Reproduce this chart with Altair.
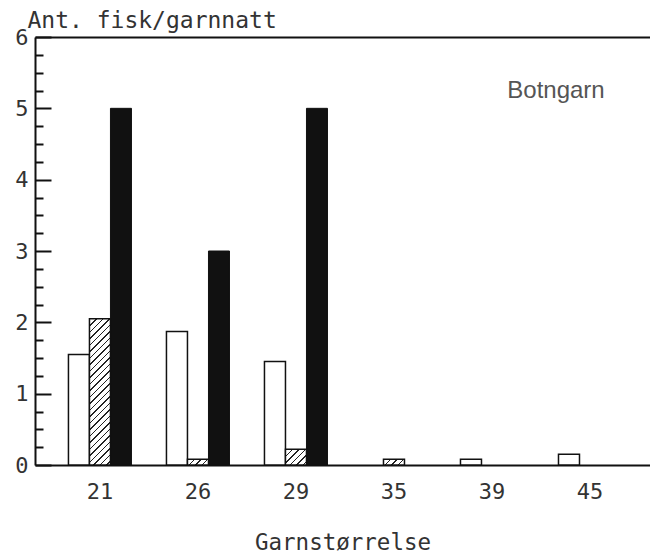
import altair as alt
import pandas as pd

# ---- data ----
garn = ["21", "26", "29", "35", "39", "45"]
hvit = [1.55, 1.87, 1.45, 0.0, 0.08, 0.15]
skravert = [2.05, 0.08, 0.22, 0.08, 0.0, 0.0]
svart = [5.0, 3.0, 5.0, 0.0, 0.0, 0.0]
serier = ["hvit", "skravert", "svart"]
y_major = [0, 1, 2, 3, 4, 5, 6]
y_minor = [q / 4 for q in range(0, 25) if q % 4 != 0]

# ---- layout ----
W, H = 615, 428
PI, PO, ALIGN = 0.357, 0.316, 0.54
YMAX = 6
step = W / (len(garn) - PI + 2 * PO)
bar_w = step * (1 - PI) / 3

FONT = "DejaVu Sans Mono"
TXT = "#333333"
INK = "#111111"

rows = []
for s, vals in zip(serier, [hvit, skravert, svart]):
    for g, v in zip(garn, vals):
        rows.append({"garn": g, "serie": s, "verdi": v})
df = pd.DataFrame(rows)

x_scale = alt.Scale(paddingInner=PI, paddingOuter=PO, align=ALIGN)

x_bottom = alt.X(
    "garn:N", sort=garn, scale=x_scale,
    axis=alt.Axis(
        title="Garnstørrelse", orient="bottom", domain=True, domainColor=INK,
        domainWidth=2, ticks=False, tickSize=0, labelPadding=16,
        labelFontSize=22, labelFont=FONT, labelColor=TXT, labelAngle=0,
        titleFont=FONT, titleFontSize=22.5, titleFontWeight="normal",
        titleColor=TXT, titlePadding=29, grid=False,
    ),
)
x_top = alt.X(
    "garn:N", sort=garn, scale=x_scale,
    axis=alt.Axis(
        orient="top", domain=True, domainColor=INK, domainWidth=2,
        ticks=False, labels=False, grid=False, title=None,
    ),
)
x_plain = alt.X("garn:N", sort=garn, scale=x_scale, axis=None)

xo_enc = alt.XOffset(
    "serie:N", sort=serier,
    scale=alt.Scale(domain=serier, paddingInner=0, paddingOuter=0),
)
y_scale = alt.Scale(domain=[0, YMAX], nice=False, zero=True)

y_left = alt.Y(
    "verdi:Q", scale=y_scale,
    axis=alt.Axis(
        orient="left", values=y_major, ticks=False, tickSize=0, domain=True,
        domainColor=INK, domainWidth=2,
        grid=False, labelPadding=7, labelFontSize=22, labelFont=FONT,
        labelColor=TXT, title="Ant. fisk/garnnatt", titleAngle=0,
        titleAlign="left", titleBaseline="alphabetic", titleX=-8, titleY=-10,
        titleFont=FONT, titleFontSize=23, titleFontWeight="normal",
        titleColor=TXT,
    ),
)
y_major_ticks = alt.Y(
    "verdi:Q", scale=y_scale,
    axis=alt.Axis(
        orient="right", offset=-W, values=y_major, tickSize=16, tickWidth=2,
        tickColor=INK, labels=False, domain=False, grid=False, title=None,
    ),
)
y_minor_ticks = alt.Y(
    "verdi:Q", scale=y_scale,
    axis=alt.Axis(
        orient="right", offset=-W, values=y_minor, tickSize=8, tickWidth=2,
        tickColor=INK, labels=False, domain=False, grid=False, title=None,
    ),
)
y_plain = alt.Y("verdi:Q", scale=y_scale, axis=None)

base = alt.Chart(df)

white = base.transform_filter(
    (alt.datum.serie == "hvit") & (alt.datum.verdi > 0)
).mark_bar(fill="white", stroke=INK, strokeWidth=1.5).encode(
    x=x_bottom, xOffset=xo_enc, y=y_left
)

black = base.transform_filter(
    (alt.datum.serie == "svart") & (alt.datum.verdi > 0)
).mark_bar(fill=INK, stroke=INK, strokeWidth=1).encode(
    x=x_top, xOffset=xo_enc, y=y_major_ticks
)


def hatch(value, period=6.5, lw=1.4):
    """Diagonal '///' hatch as a hard-stop linear gradient for a bar of given value."""
    w = bar_w
    h = max(value / YMAX * H, 1.0)
    c = w * (w + h) / (w * w + h * h)
    total = w + h
    stops = [alt.GradientStop(color="white", offset=0)]
    k = 0
    while k * period < total:
        s0 = k * period
        s1 = min(s0 + lw, total)
        o0, o1 = s0 / total, s1 / total
        stops += [
            alt.GradientStop(color="white", offset=o0),
            alt.GradientStop(color="#222222", offset=o0),
            alt.GradientStop(color="#222222", offset=o1),
            alt.GradientStop(color="white", offset=o1),
        ]
        k += 1
    stops.append(alt.GradientStop(color="white", offset=1))
    return alt.LinearGradient(
        gradient="linear", stops=stops, x1=0, y1=0, x2=c, y2=c * h / w
    )


hatched_layers = []
first = True
for g, v in zip(garn, skravert):
    if v <= 0:
        continue
    lay = base.transform_filter(
        (alt.datum.serie == "skravert") & (alt.datum.garn == g)
    ).mark_bar(fill=hatch(v), stroke=INK, strokeWidth=1.5).encode(
        x=x_plain, xOffset=xo_enc, y=(y_minor_ticks if first else y_plain)
    )
    first = False
    hatched_layers.append(lay)

label = alt.Chart(pd.DataFrame({"t": ["Botngarn"]})).mark_text(
    font="Liberation Sans", fontSize=24, color="#555555", align="center",
    baseline="middle",
).encode(text="t:N", x=alt.value(521), y=alt.value(54))

chart = alt.layer(white, black, *hatched_layers, label).resolve_axis(
    x="independent", y="independent"
).properties(
    width=W, height=H,
    padding={"left": 35, "top": 37, "right": 0, "bottom": 91},
    autosize=alt.AutoSizeParams(type="none"),
    background="white",
).configure_view(stroke=None)

chart.save("out.html", embed_options={"renderer": "svg", "actions": False})
